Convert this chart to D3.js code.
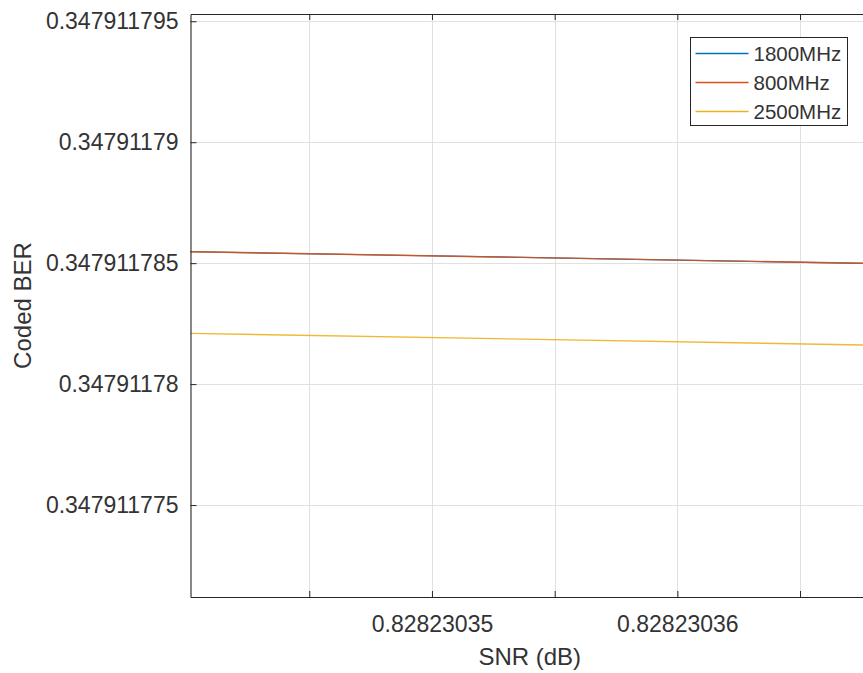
<!DOCTYPE html>
<html>
<head>
<meta charset="utf-8">
<script src="https://cdn.jsdelivr.net/npm/d3@7"></script>
<style>
  html, body { margin: 0; padding: 0; background: #fff; }
  svg { display: block; font-family: "Liberation Sans", Arial, Helvetica, sans-serif; }
</style>
</head>
<body>
<svg id="chart" width="863" height="673"></svg>
<script>
// Coded BER vs SNR, zoomed far into the curves
const seriesNames = ["1800MHz", "800MHz", "2500MHz"];
const seriesColors = ["#0072BD", "#D95319", "#EDB120"];

const snr = [0.82823034, 0.82823037];
const ber1800 = [0.347911785477, 0.347911784952];
const ber800 = [0.347911785477, 0.347911784952];
const ber2500 = [0.347911782101, 0.347911781575];

const xDomain = [0.82823034016, 0.82823036781];
const yDomain = [0.3479117712, 0.3479117953];

const xTickValues = [0.828230345, 0.82823035, 0.828230355, 0.82823036, 0.828230365];
const xTickLabels = ["", "0.82823035", "", "0.82823036", ""];
const yTickValues = [0.347911775, 0.34791178, 0.347911785, 0.34791179, 0.347911795];
const yTickLabels = ["0.347911775", "0.34791178", "0.347911785", "0.34791179", "0.347911795"];

const xLabel = "SNR (dB)";
const yLabel = "Coded BER";

const svg = d3.select("#chart");
const plot = { left: 190.5, top: 14, right: 869, bottom: 597 };

const x = d3.scaleLinear().domain(xDomain).range([plot.left, plot.right]);
const y = d3.scaleLinear().domain(yDomain).range([plot.bottom, plot.top]);

const axisColor = "#262626";
const textColor = "#333333";
const gridColor = "#e0e0e0";

svg.append("defs").append("clipPath").attr("id", "plotClip")
  .append("rect")
  .attr("x", plot.left).attr("y", plot.top)
  .attr("width", plot.right - plot.left).attr("height", plot.bottom - plot.top);

// grid
const grid = svg.append("g");
grid.selectAll("line.gx").data(xTickValues).join("line")
  .attr("x1", d => Math.round(x(d)) + 0.5).attr("x2", d => Math.round(x(d)) + 0.5)
  .attr("y1", plot.top).attr("y2", plot.bottom)
  .attr("stroke", gridColor).attr("stroke-width", 1);
grid.selectAll("line.gy").data(yTickValues).join("line")
  .attr("y1", d => Math.round(y(d)) + 0.5).attr("y2", d => Math.round(y(d)) + 0.5)
  .attr("x1", plot.left).attr("x2", plot.right)
  .attr("stroke", gridColor).attr("stroke-width", 1);

// data lines
const series = [ber1800, ber800, ber2500];
const line = d3.line().x((d, i) => x(snr[i])).y(d => y(d));
svg.append("g").attr("clip-path", "url(#plotClip)")
  .selectAll("path").data(series).join("path")
  .attr("d", d => line(d))
  .attr("fill", "none")
  .attr("stroke", (d, i) => seriesColors[i])
  .attr("stroke-width", (d, i) => i === 0 ? 1.2 : 1.4)
  .attr("stroke-opacity", (d, i) => i === 0 ? 1 : 0.9);

// axes (ticks pointing inward)
const tickLen = 6;
const xAxisB = d3.axisBottom(x).tickValues(xTickValues)
  .tickFormat((d, i) => xTickLabels[i]).tickSizeInner(-tickLen).tickSizeOuter(0).tickPadding(19);
const xAxisT = d3.axisTop(x).tickValues(xTickValues)
  .tickFormat("").tickSizeInner(-tickLen).tickSizeOuter(0);
const yAxisL = d3.axisLeft(y).tickValues(yTickValues)
  .tickFormat((d, i) => yTickLabels[i]).tickSizeInner(-tickLen).tickSizeOuter(0).tickPadding(12);

function styleAxis(g) {
  g.select(".domain").attr("stroke", axisColor).attr("stroke-width", 1.1);
  g.selectAll(".tick line").attr("stroke", axisColor).attr("stroke-width", 1);
  g.selectAll(".tick text").attr("fill", textColor).attr("font-size", 23)
    .attr("font-family", "'Liberation Sans', Arial, sans-serif");
}

svg.append("g").attr("transform", `translate(0,${plot.bottom})`).call(xAxisB).call(styleAxis);
svg.append("g").attr("transform", `translate(0,${plot.top})`).call(xAxisT).call(styleAxis);
svg.append("g").attr("transform", `translate(${plot.left},0)`).call(yAxisL).call(styleAxis);

// axis titles
svg.append("text")
  .attr("x", (plot.left + plot.right) / 2).attr("y", 665)
  .attr("text-anchor", "middle").attr("fill", textColor).attr("font-size", 24)
  .text(xLabel);
svg.append("text")
  .attr("transform", `translate(31,${(plot.top + plot.bottom) / 2}) rotate(-90)`)
  .attr("text-anchor", "middle").attr("fill", textColor).attr("font-size", 24)
  .text(yLabel);

// legend
const leg = { x: 690.5, y: 37.5, w: 157, h: 88, row: 29 };
const legend = svg.append("g");
legend.append("rect")
  .attr("x", leg.x).attr("y", leg.y).attr("width", leg.w).attr("height", leg.h)
  .attr("fill", "#fff").attr("stroke", axisColor).attr("stroke-width", 1);
const items = legend.selectAll("g.item").data(seriesNames).join("g")
  .attr("transform", (d, i) => `translate(${leg.x},${leg.y + 16 + i * leg.row})`);
items.append("line")
  .attr("x1", 5).attr("x2", 58).attr("y1", 0).attr("y2", 0)
  .attr("stroke", (d, i) => seriesColors[i]).attr("stroke-width", 1.4);
items.append("text")
  .attr("x", 63).attr("y", 0).attr("dy", "0.35em")
  .attr("fill", textColor).attr("font-size", 20.5)
  .text(d => d);
</script>
</body>
</html>
